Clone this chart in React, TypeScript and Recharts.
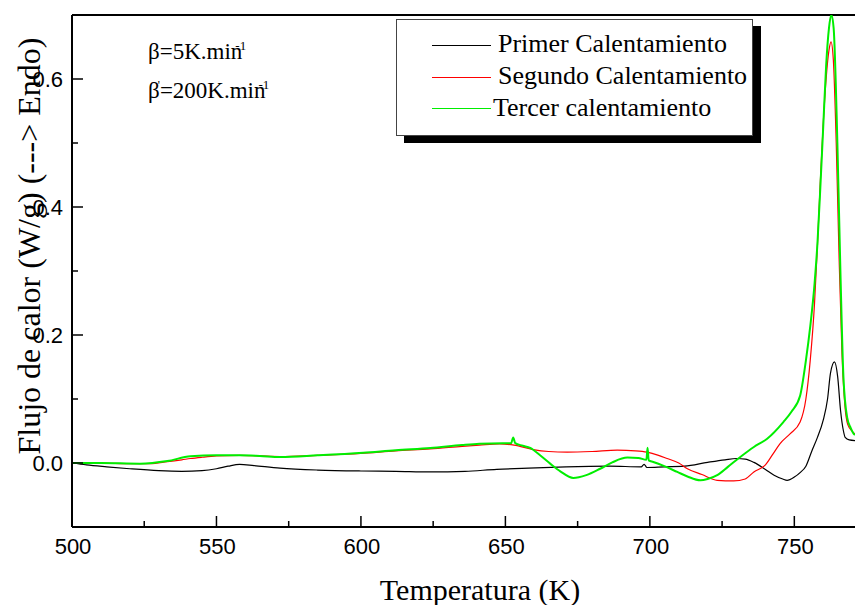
import React from 'react';
import { LineChart, Line, XAxis, YAxis, ReferenceLine } from 'recharts';

// Primer calentamiento
const TEMP_PRIMER = [500, 505, 512, 520, 530, 538, 545, 550, 554, 558, 563, 572, 585, 600, 612, 624, 636, 647, 658, 671, 686, 697, 698, 699, 705, 712, 720, 726, 730, 733, 736, 740, 743, 746, 747.5, 750, 752, 754, 756, 758, 760, 761.5, 762.5, 763.9, 765, 766, 767, 767.6, 769, 771];
const FLUJO_PRIMER = [0, -0.003, -0.006, -0.009, -0.012, -0.013, -0.012, -0.009, -0.005, -0.002, -0.004, -0.008, -0.011, -0.0125, -0.013, -0.014, -0.013, -0.01, -0.008, -0.006, -0.005, -0.006, -0.002, -0.007, -0.006, -0.005, 0.001, 0.005, 0.007, 0.006, 0.001, -0.01, -0.019, -0.025, -0.027, -0.022, -0.015, -0.005, 0.018, 0.04, 0.067, 0.1, 0.14, 0.158, 0.135, 0.082, 0.05, 0.04, 0.036, 0.035];

// Segundo calentamiento
const TEMP_SEGUNDO = [500, 510, 520, 527, 533, 538, 541, 545, 550, 558, 565, 572, 585, 600, 612, 624, 635, 641, 648, 653, 659.6, 665, 671.4, 680, 688.7, 695, 699, 703, 706, 710, 713, 718, 723.3, 729, 733, 736, 740, 742.7, 745, 748.6, 752, 754, 755.5, 757, 758, 759, 760, 761, 762, 762.7, 763.5, 764.5, 765.5, 766.5, 767.5, 768.5, 770, 771];
const FLUJO_SEGUNDO = [0, 0, -0.001, -0.001, 0.002, 0.005, 0.007, 0.009, 0.011, 0.012, 0.011, 0.01, 0.012, 0.015, 0.019, 0.022, 0.026, 0.028, 0.03, 0.028, 0.021, 0.018, 0.017, 0.018, 0.02, 0.019, 0.017, 0.012, 0.007, 0, -0.009, -0.018, -0.027, -0.028, -0.025, -0.014, -0.003, 0.0147, 0.03, 0.046, 0.064, 0.1, 0.16, 0.25, 0.34, 0.44, 0.53, 0.6, 0.645, 0.658, 0.63, 0.5, 0.32, 0.17, 0.09, 0.06, 0.05, 0.045];

// Tercer calentamiento
const TEMP_TERCER = [500, 510, 523.5, 533, 541, 550, 558, 565, 572, 585, 600.8, 612, 624, 635, 641, 649, 652, 652.7, 653.4, 656, 658.6, 662, 665.5, 669, 673.5, 678, 682.8, 687, 692.2, 696, 698.8, 699.2, 699.6, 701.2, 705, 709.5, 713, 717.5, 720, 723.3, 727, 731.3, 736, 740.6, 746.2, 749, 752, 754, 755.5, 757, 758, 759, 760, 761, 762, 762.8, 763.6, 764.9, 766, 767, 768.3, 769.5, 770.5, 771];
const FLUJO_TERCER = [0, 0, -0.001, 0.003, 0.0105, 0.012, 0.012, 0.011, 0.0094, 0.012, 0.016, 0.02, 0.0235, 0.028, 0.03, 0.031, 0.031, 0.04, 0.031, 0.027, 0.0235, 0.012, -0.001, -0.013, -0.0234, -0.019, -0.009, 0.001, 0.0084, 0.008, 0.005, 0.024, 0.004, 0.0016, -0.005, -0.014, -0.021, -0.027, -0.025, -0.019, -0.006, 0.0094, 0.025, 0.038, 0.064, 0.08, 0.105, 0.16, 0.213, 0.28, 0.343, 0.43, 0.525, 0.62, 0.68, 0.7, 0.68, 0.5, 0.29, 0.134, 0.071, 0.055, 0.046, 0.044];

const X_TICKS = [500, 525, 550, 575, 600, 625, 650, 675, 700, 725, 750];
const Y_TICKS = [0, 0.1, 0.2, 0.3, 0.4, 0.5, 0.6];

const SERIES = [
  { name: 'Primer Calentamiento', color: '#000000', width: 1.2, temps: TEMP_PRIMER, values: FLUJO_PRIMER },
  { name: 'Segundo Calentamiento', color: '#ff0000', width: 1.2, temps: TEMP_SEGUNDO, values: FLUJO_SEGUNDO },
  { name: 'Tercer calentamiento', color: '#00ee00', width: 2, temps: TEMP_TERCER, values: FLUJO_TERCER },
];

const serif = '"Liberation Serif", "Times New Roman", serif';
const sans = '"Liberation Sans", Arial, sans-serif';

const XTick = (props: any) => {
  const { x, y, payload } = props;
  const major = payload.value % 50 === 0;
  return (
    <g>
      <line x1={x} x2={x} y1={527} y2={major ? 516 : 521} stroke="#000" strokeWidth={1.5} />
      {major && (
        <text x={x + 1} y={y + 17} textAnchor="middle" fontFamily={sans} fontSize={22} fill="#000">
          {payload.value}
        </text>
      )}
    </g>
  );
};

const YTick = (props: any) => {
  const { y, payload } = props;
  const v = Math.round(payload.value * 10);
  const major = v % 2 === 0;
  return (
    <g>
      <line x1={72} x2={major ? 83 : 78} y1={y} y2={y} stroke="#000" strokeWidth={1.5} />
      {major && (
        <text x={63} y={y + 8} textAnchor="end" fontFamily={sans} fontSize={22} fill="#000">
          {payload.value.toFixed(1)}
        </text>
      )}
    </g>
  );
};

export default function App() {
  return (
    <div style={{ position: 'absolute', left: 0, top: 0, width: 855, height: 605, background: '#fff' }}>
      <LineChart width={855} height={605} margin={{ top: 15, right: 0, bottom: 0, left: 0 }}>
        <XAxis
          type="number"
          dataKey="t"
          domain={[500, 771]}
          ticks={X_TICKS}
          height={78}
          tickSize={0}
          tickMargin={10}
          tick={XTick}
          axisLine={{ stroke: '#000', strokeWidth: 2 }}
          allowDataOverflow
          label={() => (
            <text x={480} y={600} textAnchor="middle" fontFamily={serif} fontSize={30} fill="#000">
              Temperatura (K)
            </text>
          )}
        />
        <YAxis
          type="number"
          dataKey="q"
          domain={[-0.1, 0.7]}
          ticks={Y_TICKS}
          width={72}
          tickSize={0}
          tickMargin={9}
          tick={YTick}
          axisLine={{ stroke: '#000', strokeWidth: 2 }}
          allowDataOverflow
          label={() => (
            <text x={40} y={246} transform="rotate(-90 40 246)" textAnchor="middle" fontFamily={serif} fontSize={32} fill="#000">
              Flujo de calor (W/g) (---&gt; Endo)
            </text>
          )}
        />
        <ReferenceLine y={0.7} stroke="#000" strokeWidth={2} ifOverflow="extendDomain" />
        {SERIES.map((s) => (
          <Line
            key={s.name}
            name={s.name}
            data={s.temps.map((t, i) => ({ t, q: s.values[i] }))}
            dataKey="q"
            type="monotone"
            stroke={s.color}
            strokeWidth={s.width}
            dot={false}
            isAnimationActive={false}
          />
        ))}
      </LineChart>

      <div style={{ position: 'absolute', left: 148, top: 40, fontFamily: serif, fontSize: 23, lineHeight: '23px', whiteSpace: 'nowrap' }}>
        β=5K.min<span style={{ position: 'relative', top: -9, marginLeft: -7, fontSize: 13 }}>-1</span>
      </div>
      <div style={{ position: 'absolute', left: 148, top: 79, fontFamily: serif, fontSize: 23, lineHeight: '23px', whiteSpace: 'nowrap' }}>
        β<span style={{ position: 'relative', top: -9, marginLeft: -2, fontSize: 12 }}>'</span>=200K.min
        <span style={{ position: 'relative', top: -9, marginLeft: -7, fontSize: 13 }}>-1</span>
      </div>

      <div
        style={{
          position: 'absolute',
          left: 396,
          top: 19,
          width: 357,
          height: 117,
          boxSizing: 'border-box',
          border: '1px solid #444',
          background: '#fff',
          boxShadow: '8px 7px 0 #000',
        }}
      >
        {SERIES.map((s, i) => (
          <React.Fragment key={s.name}>
            <div style={{ position: 'absolute', left: 35, top: 25 + i * 31.5, width: 59, height: 1, background: s.color }} />
            <div
              style={{
                position: 'absolute',
                left: i === 2 ? 96 : 101,
                top: 11 + i * 32,
                fontFamily: serif,
                fontSize: 26,
                lineHeight: '26px',
                whiteSpace: 'nowrap',
              }}
            >
              {s.name}
            </div>
          </React.Fragment>
        ))}
      </div>
    </div>
  );
}
